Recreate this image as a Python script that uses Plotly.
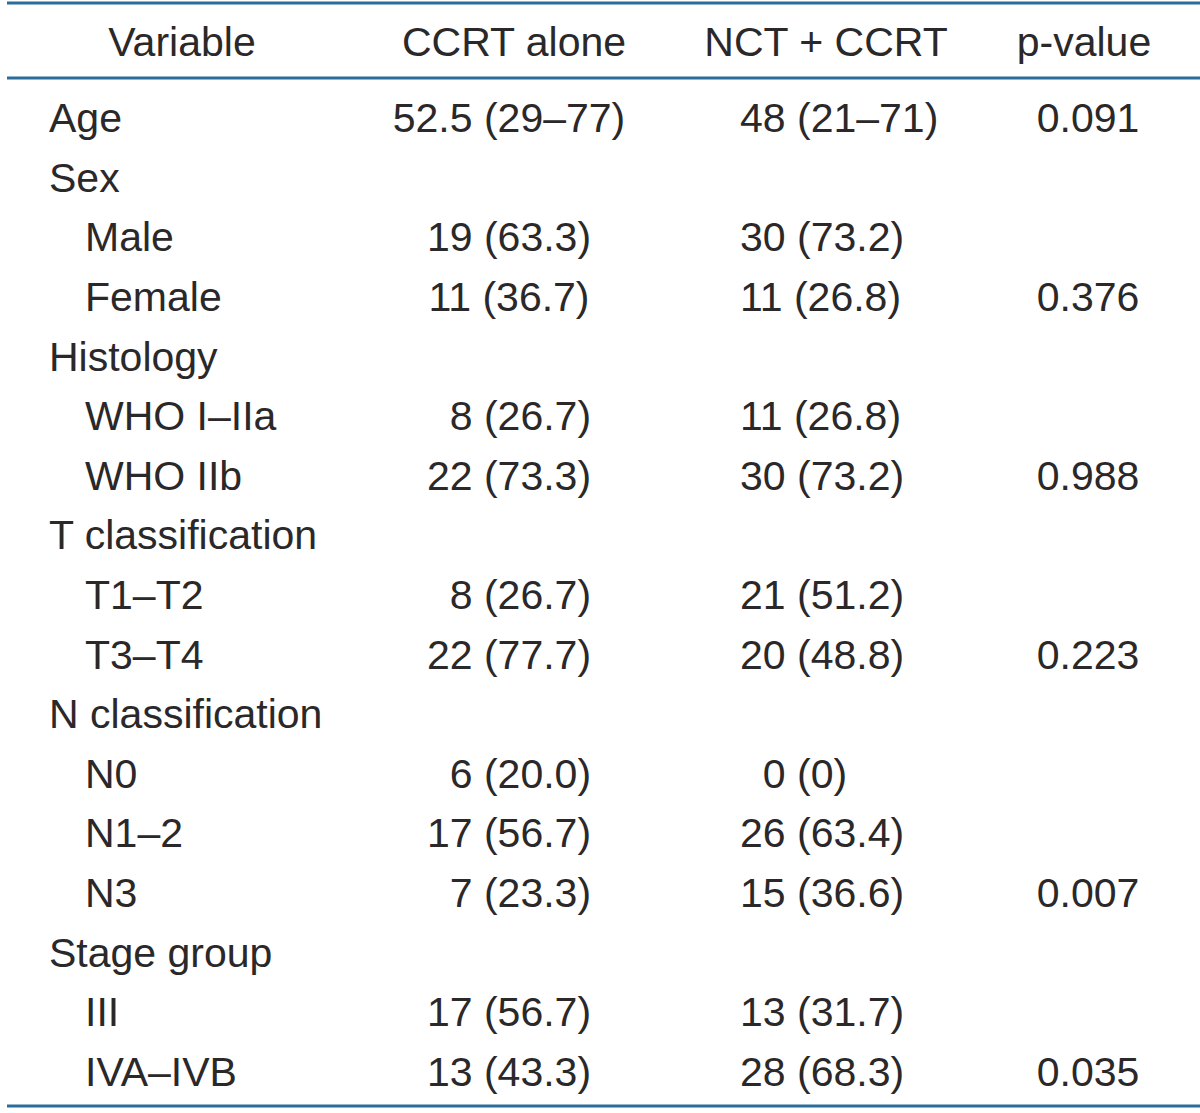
import plotly.graph_objects as go

FS = "\u2007"  # figure space for digit padding

headers = ["Variable", "CCRT alone", "NCT + CCRT", "p-value"]
variables = ["Age", "Sex", "Male", "Female", "Histology", "WHO I\u2013IIa", "WHO IIb",
             "T classification", "T1\u2013T2", "T3\u2013T4", "N classification", "N0",
             "N1\u20132", "N3", "Stage group", "III", "IVA\u2013IVB"]
is_sub = [False, False, True, True, False, True, True, False, True, True, False,
          True, True, True, False, True, True]
ccrt_alone = ["52.5 (29\u201377)", "", "19 (63.3)", "11 (36.7)", "", FS + "8 (26.7)", "22 (73.3)",
              "", FS + "8 (26.7)", "22 (77.7)", "", FS + "6 (20.0)", "17 (56.7)", FS + "7 (23.3)",
              "", "17 (56.7)", "13 (43.3)"]
nct_ccrt = ["48 (21\u201371)", "", "30 (73.2)", "11 (26.8)", "", "11 (26.8)", "30 (73.2)",
            "", "21 (51.2)", "20 (48.8)", "", FS + "0 (0)", "26 (63.4)", "15 (36.6)",
            "", "13 (31.7)", "28 (68.3)"]
p_values = ["0.091", "", "", "0.376", "", "", "0.988", "", "", "0.223", "", "", "", "0.007",
            "", "", "0.035"]

W, H = 1200, 1113
TXT = "#2b2829"
LINE = "#2a6d9a"
FONT = "Liberation Sans Narrow, Liberation Sans, Arial, sans-serif"
SIZE = 41

row0, step, head_y = 122, 59.6, 46
ys = [row0 + i * step for i in range(len(variables))]

fig = go.Figure()

tf = dict(family=FONT, size=SIZE, color=TXT)

fig.add_trace(go.Scatter(
    x=[182, 514, 826, 1084], y=[head_y] * 4, mode="text", text=headers,
    textposition="middle center", textfont=tf, hoverinfo="skip", showlegend=False))

fig.add_trace(go.Scatter(
    x=[85 if s else 49 for s in is_sub], y=ys, mode="text", text=variables,
    textposition="middle right", textfont=tf, hoverinfo="skip", showlegend=False))

fig.add_trace(go.Scatter(
    x=[509] * len(ys), y=ys, mode="text", text=ccrt_alone,
    textposition="middle center", textfont=tf, hoverinfo="skip", showlegend=False))

fig.add_trace(go.Scatter(
    x=[740] * len(ys), y=ys, mode="text", text=nct_ccrt,
    textposition="middle right", textfont=tf, hoverinfo="skip", showlegend=False))

fig.add_trace(go.Scatter(
    x=[1088] * len(ys), y=ys, mode="text", text=p_values,
    textposition="middle center", textfont=tf, hoverinfo="skip", showlegend=False))

for yl in [3, 78, 1106]:
    fig.add_shape(type="line", x0=7, x1=1200, y0=yl, y1=yl,
                  line=dict(color=LINE, width=3), xref="x", yref="y")

fig.update_layout(
    width=W, height=H, margin=dict(l=0, r=0, t=0, b=0),
    paper_bgcolor="white", plot_bgcolor="white",
    xaxis=dict(range=[0, W], visible=False, fixedrange=True),
    yaxis=dict(range=[H, 0], visible=False, fixedrange=True),
)

fig.write_html("out.html", config={"displayModeBar": False},
               post_script="document.body.style.margin='0';document.body.style.overflow='hidden';")
